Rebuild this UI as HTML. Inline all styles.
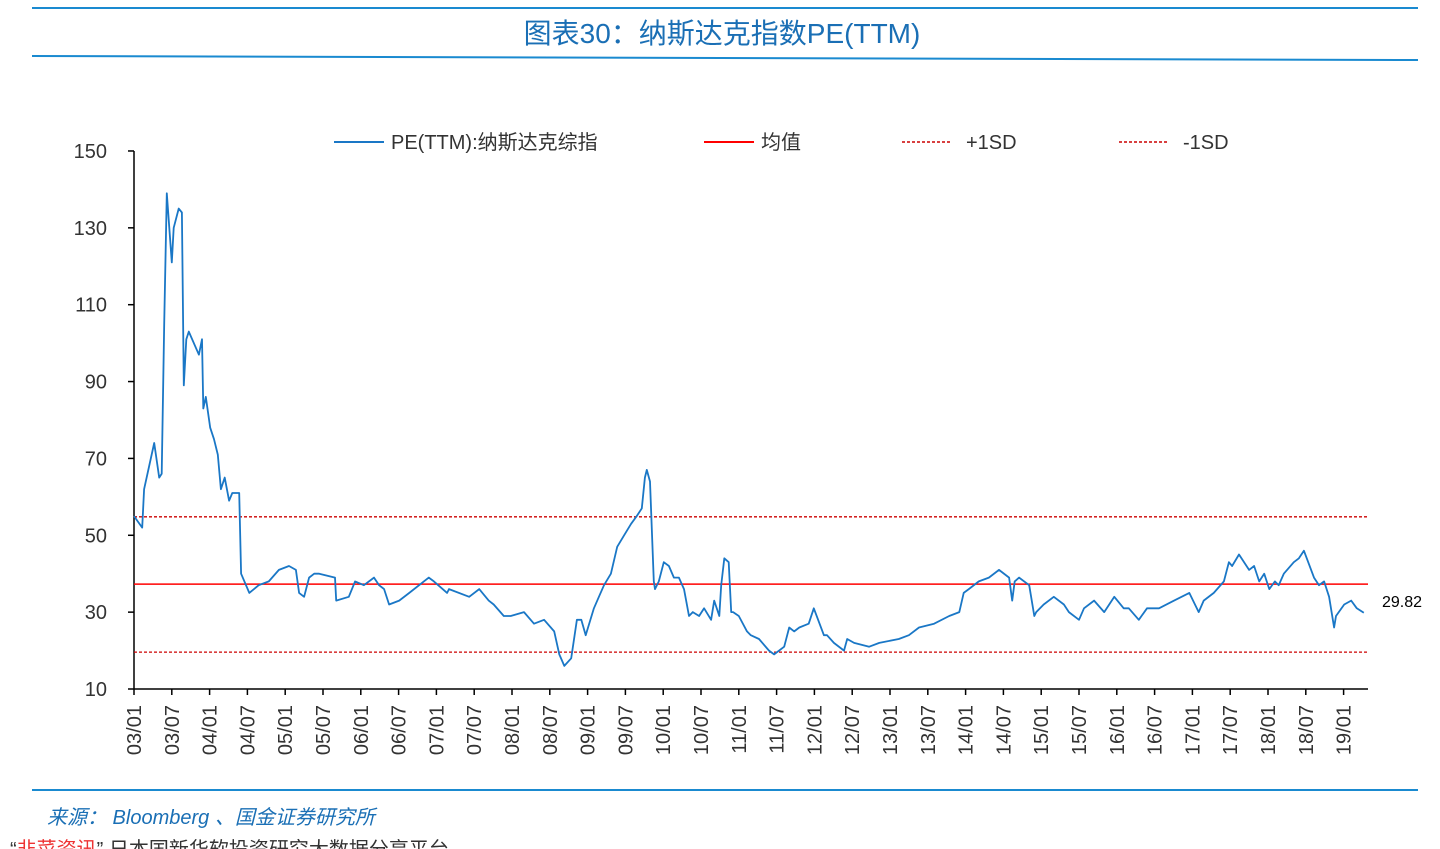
<!DOCTYPE html>
<html><head><meta charset="utf-8">
<style>
html,body{margin:0;padding:0;background:#fff;}
body{width:1440px;height:849px;overflow:hidden;position:relative;font-family:"Liberation Sans","Noto Sans CJK SC",sans-serif;}
</style></head>
<body>
<svg id="chart" width="1440" height="849" viewBox="0 0 1440 849" xmlns="http://www.w3.org/2000/svg" style="position:absolute;left:0;top:0">
  <line x1="32" y1="8" x2="1418" y2="8" stroke="#1a8ad0" stroke-width="2"/>
  <text x="722" y="43" text-anchor="middle" font-size="28" fill="#1a6fb5" font-family="Liberation Sans, Noto Sans CJK SC, sans-serif">图表30：纳斯达克指数PE(TTM)</text>
  <line x1="32" y1="56" x2="1418" y2="60" stroke="#1a8ad0" stroke-width="2"/>
  <g font-size="20" fill="#333">
    <g><line x1="334" y1="142" x2="384" y2="142" stroke="#1a77c6" stroke-width="2"/><text x="391" y="149">PE(TTM):纳斯达克综指</text></g>
    <g><line x1="704" y1="142" x2="754" y2="142" stroke="#ff0000" stroke-width="2"/><text x="761" y="149">均值</text></g>
    <g><line x1="902" y1="142" x2="952" y2="142" stroke="#cc0000" stroke-width="1.5" stroke-dasharray="3,2"/><text x="966" y="149">+1SD</text></g>
    <g><line x1="1119" y1="142" x2="1169" y2="142" stroke="#cc0000" stroke-width="1.5" stroke-dasharray="3,2"/><text x="1183" y="149">-1SD</text></g>
  </g>
  <g id="yaxis"></g>
  <g id="xaxis"></g>
  <g id="refs"></g>
  <g id="series"></g>
  <text x="1382" y="607" font-size="16" fill="#000">29.82</text>
  <line x1="32" y1="790" x2="1418" y2="790" stroke="#1a8ad0" stroke-width="2"/>
  <text x="47" y="824" font-size="20" font-style="italic" fill="#1a6fb5">来源： Bloomberg 、国金证券研究所</text>
  <text x="10" y="856" font-size="20" fill="#333">“<tspan fill="#e33">韭菜资讯</tspan>” 日本国新华软投资研究大数据分享平台</text>
</svg>
<script>
// months since 2003/01
const months = [0,1.3,1.6,3.2,4.0,4.4,4.8,5.2,6.0,6.3,7.1,7.6,7.9,8.3,8.7,10.3,10.8,11.0,11.4,12.1,12.7,13.3,13.8,14.4,15.1,15.6,16.7,17.0,18.3,19.8,21.4,23.0,24.6,25.7,26.2,27.0,27.8,28.6,29.4,31.9,32.1,34.1,35.1,36.5,38.1,38.9,39.7,40.5,42.1,43.7,46.8,47.6,49.7,50.0,53.2,54.8,56.3,57.1,58.7,59.8,61.9,63.5,65.1,66.7,67.5,68.3,69.4,70.3,71.0,71.7,73.0,73.8,74.6,75.7,76.7,77.8,78.9,79.8,80.6,81.1,81.4,81.9,82.5,82.7,83.3,84.1,84.9,85.7,86.5,87.3,88.1,88.7,89.7,90.5,91.6,92.1,92.9,93.2,93.7,94.4,94.8,95.1,96.0,97.3,97.9,99.2,100.8,101.6,103.2,104.0,104.8,105.6,107.1,107.9,109.5,110.0,111.1,112.7,113.2,114.3,116.7,118.3,121.4,123.0,124.6,127.0,129.4,131.0,131.7,132.5,134.1,135.7,137.3,138.9,139.4,139.8,140.5,142.1,142.9,143.2,144.4,146.0,147.6,148.4,150.0,150.8,152.4,154.0,155.6,157.1,157.9,159.5,160.8,162.7,165.1,167.5,169.0,169.8,171.4,173.0,173.8,174.3,175.4,177.0,177.8,178.6,179.4,180.2,181.1,181.7,182.5,184.1,184.9,185.7,187.3,188.1,188.9,189.7,190.5,190.8,192.1,193.2,194.1,195.2,196.4];
const peValues = [55,52,62,74,65,66,105,139,121,130,135,134,89,101,103,97,101,83,86,78,75,71,62,65,59,61,61,40,35,37,38,41,42,41,35,34,39,40,40,39,33,34,38,37,39,37,36,32,33,35,39,38,35,36,34,36,33,32,29,29,30,27,28,25,19,16,18,28,28,24,31,34,37,40,47,50,53,55,57,65,67,64,38,36,38,43,42,39,39,36,29,30,29,31,28,33,29,37,44,43,30,30,29,25,24,23,20,19,21,26,25,26,27,31,24,24,22,20,23,22,21,22,23,24,26,27,29,30,35,36,38,39,41,39,33,38,39,37,29,30,32,34,32,30,28,31,33,30,34,31,31,28,31,31,33,35,30,33,35,38,43,42,45,41,42,38,40,36,38,37,40,43,44,46,39,37,38,34,26,29,32,33,31,29.82];
const yTicks = [10,30,50,70,90,110,130,150];
const xTickLabels = ["03/01","03/07","04/01","04/07","05/01","05/07","06/01","06/07","07/01","07/07","08/01","08/07","09/01","09/07","10/01","10/07","11/01","11/07","12/01","12/07","13/01","13/07","14/01","14/07","15/01","15/07","16/01","16/07","17/01","17/07","18/01","18/07","19/01"];
const meanValue = [37.3];
const sdBands = [54.8, 19.6];

const NS="http://www.w3.org/2000/svg";
const X0=134, PXM=6.3, Y0=689, PXV=3.843, XEND=1368;
const xs = m => X0 + m*PXM;
const ys = v => Y0 - (v-10)*PXV;
function mk(tag, attrs, parent){const e=document.createElementNS(NS,tag);for(const k in attrs)e.setAttribute(k,attrs[k]);parent.appendChild(e);return e;}

const ya=document.getElementById('yaxis');
mk('line',{x1:X0,y1:ys(150),x2:X0,y2:Y0,stroke:'#000','stroke-width':1.5},ya);
yTicks.forEach(v=>{
  const t=mk('line',{x1:X0-6,y1:ys(v),x2:X0,y2:ys(v),stroke:'#000','stroke-width':1.5},ya);
  
  
  const l=mk('text',{x:107,y:ys(v)+7,'text-anchor':'end','font-size':20,fill:'#333'},ya);
  
  
  l.textContent=v;
});
const xa=document.getElementById('xaxis');
mk('line',{x1:X0,y1:Y0,x2:XEND,y2:Y0,stroke:'#000','stroke-width':1.5},xa);
xTickLabels.forEach((s,i)=>{
  const x=xs(i*6);
  const t=mk('line',{x1:x,y1:Y0,x2:x,y2:Y0+6,stroke:'#000','stroke-width':1.5},xa);
  
  
  const l=mk('text',{x:0,y:0,'text-anchor':'end','font-size':20,fill:'#333',transform:`translate(${x+7},${Y0+16}) rotate(-90)`},xa);
  
  
  l.textContent=s;
});
const rf=document.getElementById('refs');
const ml=mk('line',{x1:X0,y1:ys(meanValue[0]),x2:XEND,y2:ys(meanValue[0]),stroke:'#ff0000','stroke-width':1.5},rf);


sdBands.forEach((v,i)=>{
  const l=mk('line',{x1:X0,y1:ys(v),x2:XEND,y2:ys(v),stroke:'#cc0000','stroke-width':1.3,'stroke-dasharray':'3,2'},rf);
  
  
});
const sg=document.getElementById('series');
const pts=months.map((m,i)=>xs(m).toFixed(1)+','+ys(peValues[i]).toFixed(1)).join(' ');
const pl=mk('polyline',{points:pts,fill:'none',stroke:'#1a77c6','stroke-width':1.8,'stroke-linejoin':'round'},sg);


</script>
</body></html>
